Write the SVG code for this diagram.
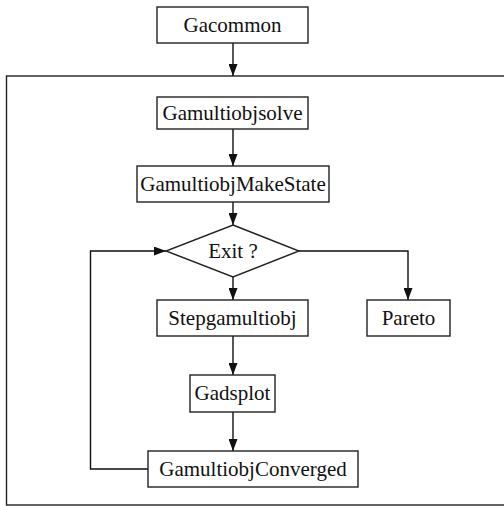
<svg xmlns="http://www.w3.org/2000/svg" width="504" height="506" viewBox="0 0 504 506">
<defs>
<style>
.box{fill:#fff;stroke:#222;stroke-width:1.4}
.frame{fill:none;stroke:#222;stroke-width:1.4}
.line{fill:none;stroke:#111;stroke-width:1.4}
text{font-family:"Liberation Serif","Times New Roman",serif;font-size:21px;fill:#111;text-anchor:middle}
</style>
<marker id="arr" viewBox="0 0 12 9" refX="12" refY="4.5" markerWidth="12" markerHeight="9" markerUnits="userSpaceOnUse" orient="auto">
<path d="M0,0 L12,4.5 L0,9 z" fill="#111"/>
</marker>
</defs>
<rect id="frame" class="frame" x="6.5" y="76" width="510" height="429"/>
<g id="connectors">
<line class="line" x1="233" y1="43" x2="233" y2="76" marker-end="url(#arr)"/>
<line class="line" x1="233" y1="129" x2="233" y2="166" marker-end="url(#arr)"/>
<line class="line" x1="233" y1="202" x2="233" y2="225" marker-end="url(#arr)"/>
<line class="line" x1="233" y1="277" x2="233" y2="300" marker-end="url(#arr)"/>
<polyline class="line" points="299,251 408,251 408,300" marker-end="url(#arr)"/>
<line class="line" x1="233" y1="336" x2="233" y2="375" marker-end="url(#arr)"/>
<line class="line" x1="233" y1="412" x2="233" y2="451" marker-end="url(#arr)"/>
<polyline class="line" points="148,469 90.5,469 90.5,251 166,251" marker-end="url(#arr)"/>
</g>
<g id="gacommon"><rect class="box" x="157" y="7" width="151" height="36"/><text x="232.5" y="31.5">Gacommon</text></g>
<g id="gamultiobjsolve"><rect class="box" x="157" y="97" width="151" height="32"/><text x="232.5" y="120">Gamultiobjsolve</text></g>
<g id="makestate"><rect class="box" x="137" y="166" width="192" height="36"/><text x="233" y="191">GamultiobjMakeState</text></g>
<g id="exit"><polygon class="box" points="233,225 299,251 233,277 166,251"/><text x="233" y="258">Exit ?</text></g>
<g id="stepgamultiobj"><rect class="box" x="157" y="300" width="151" height="36"/><text x="232.5" y="325">Stepgamultiobj</text></g>
<g id="pareto"><rect class="box" x="367" y="300" width="83" height="36"/><text x="408.5" y="325">Pareto</text></g>
<g id="gadsplot"><rect class="box" x="190" y="375" width="85" height="37"/><text x="232.5" y="400">Gadsplot</text></g>
<g id="converged"><rect class="box" x="148" y="451" width="210" height="36"/><text x="253" y="476">GamultiobjConverged</text></g>
</svg>
